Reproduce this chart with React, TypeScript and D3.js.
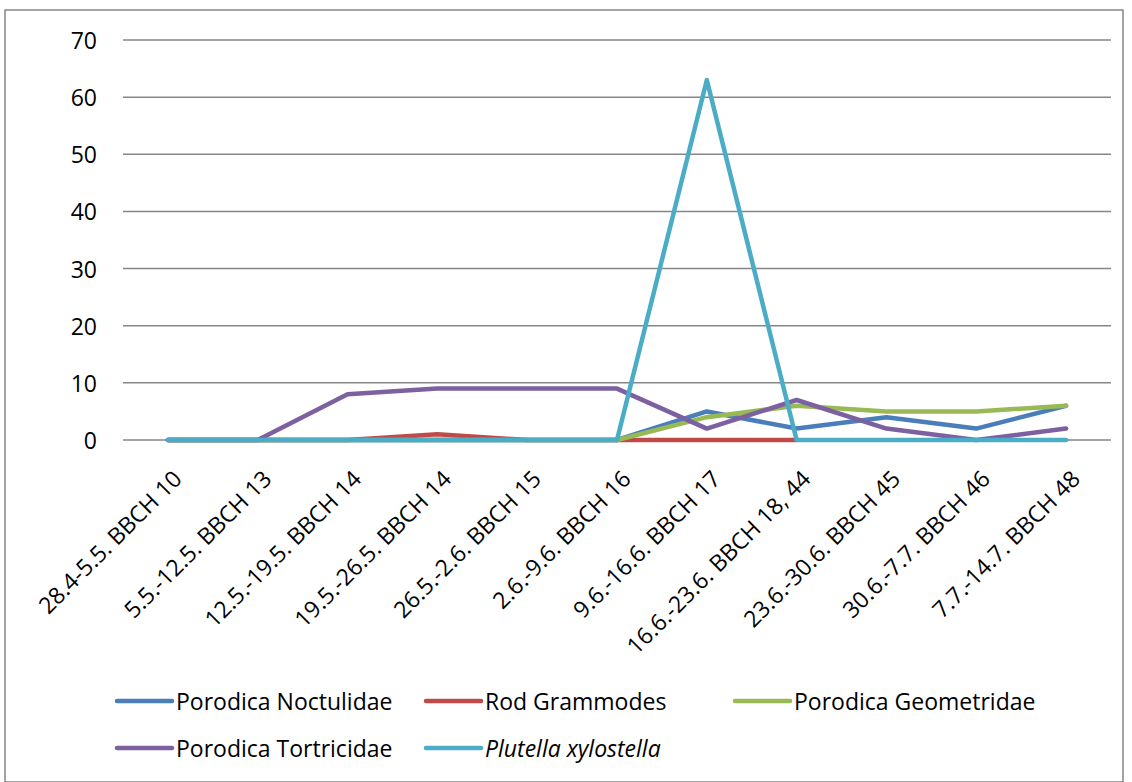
import React from "react";
import * as d3 from "d3";

const categories = [
  "28.4-5.5. BBCH 10",
  "5.5.-12.5. BBCH 13",
  "12.5.-19.5. BBCH 14",
  "19.5.-26.5. BBCH 14",
  "26.5.-2.6. BBCH 15",
  "2.6.-9.6. BBCH 16",
  "9.6.-16.6. BBCH 17",
  "16.6.-23.6. BBCH 18, 44",
  "23.6.-30.6. BBCH 45",
  "30.6.-7.7. BBCH 46",
  "7.7.-14.7. BBCH 48",
];

const noctulidae = [0, 0, 0, 0, 0, 0, 5, 2, 4, 2, 6];
const grammodes: (number | null)[] = [0, 0, 0, 1, 0, 0, 0, 0, null, null, null];
const geometridae = [0, 0, 0, 0, 0, 0, 4, 6, 5, 5, 6];
const tortricidae = [0, 0, 8, 9, 9, 9, 2, 7, 2, 0, 2];
const plutella = [0, 0, 0, 0, 0, 0, 63, 0, 0, 0, 0];

const yTicks = [0, 10, 20, 30, 40, 50, 60, 70];

const seriesNames = [
  "Porodica Noctulidae",
  "Rod Grammodes",
  "Porodica Geometridae",
  "Porodica Tortricidae",
  "Plutella xylostella",
];
const seriesValues = [noctulidae, grammodes, geometridae, tortricidae, plutella];
const seriesColors = ["#4A7EBB", "#BE4B48", "#98B954", "#7D60A0", "#4BACC6"];

const W = 1132;
const H = 782;
const left = 123;
const right = 1111;
const top = 40;
const bottom = 440;

export default function App() {
  const x = d3
    .scaleBand<string>()
    .domain(categories)
    .range([left, right]);
  const y = d3.scaleLinear().domain([0, 70]).range([bottom, top]);
  const cx = (c: string) => (x(c) as number) + x.bandwidth() / 2;

  const line = d3
    .line<number | null>()
    .defined((d) => d !== null)
    .x((_, i) => cx(categories[i]))
    .y((d) => y(d as number));

  const font = "'Open Sans', sans-serif";
  const fs = 23;

  const legendPos = [
    { x: 117, y: 701 },
    { x: 426, y: 701 },
    { x: 735, y: 701 },
    { x: 117, y: 748 },
    { x: 426, y: 748 },
  ];

  return (
    <svg
      width={W}
      height={H}
      style={{ position: "absolute", left: 0, top: 0 }}
      fontFamily={font}
    >
      <rect x={0} y={0} width={W} height={H} fill="#fff" />
      <rect
        x={5}
        y={10}
        width={1118}
        height={772}
        fill="none"
        stroke="#868686"
        strokeWidth={1.5}
      />
      {yTicks.map((t) => (
        <g key={t}>
          <line
            x1={left}
            x2={right}
            y1={y(t)}
            y2={y(t)}
            stroke="#868686"
            strokeWidth={1.5}
          />
          <text
            x={97}
            y={y(t)}
            textAnchor="end"
            dominantBaseline="central"
            fontSize={fs}
            fill="#000"
          >
            {t}
          </text>
        </g>
      ))}
      {categories.map((c) => (
        <text
          key={c}
          transform={`translate(${cx(c) + 9},${474}) rotate(-45)`}
          textAnchor="end"
          dominantBaseline="central"
          fontSize={fs}
          fill="#000"
        >
          {c}
        </text>
      ))}
      {seriesValues.map((vals, i) => (
        <path
          key={seriesNames[i]}
          d={line(vals) || ""}
          fill="none"
          stroke={seriesColors[i]}
          strokeWidth={4.5}
          strokeLinejoin="round"
          strokeLinecap="round"
        />
      ))}
      {seriesNames.map((n, i) => (
        <g key={n}>
          <line
            x1={legendPos[i].x}
            x2={legendPos[i].x + 55}
            y1={legendPos[i].y}
            y2={legendPos[i].y}
            stroke={seriesColors[i]}
            strokeWidth={4.5}
            strokeLinecap="round"
          />
          <text
            x={legendPos[i].x + 59}
            y={legendPos[i].y}
            dominantBaseline="central"
            fontSize={fs}
            fontStyle={i === 4 ? "italic" : "normal"}
            fill="#000"
          >
            {n}
          </text>
        </g>
      ))}
    </svg>
  );
}
